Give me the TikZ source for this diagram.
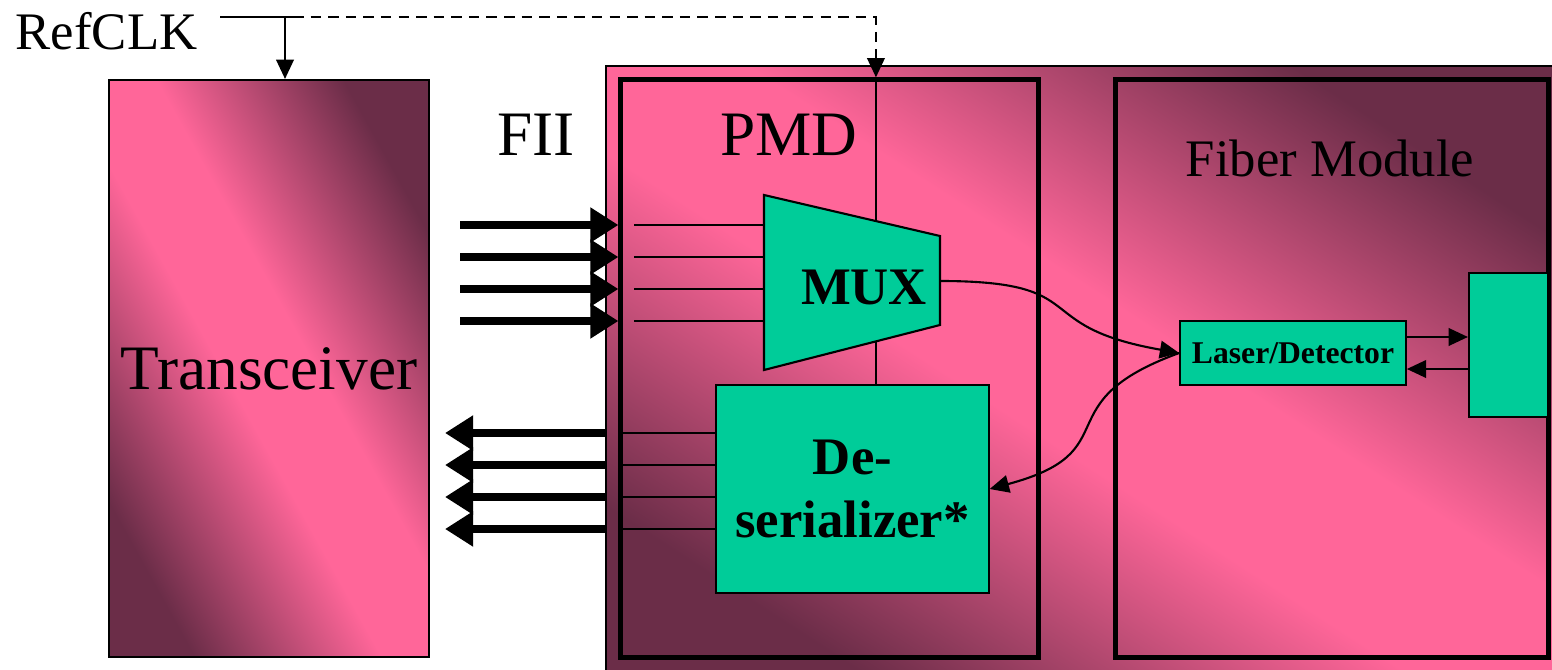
\documentclass[tikz,border=0pt]{standalone}
\usepackage{fontspec}
\setmainfont{Liberation Serif}
\usepackage{tikz}
\usetikzlibrary{arrows.meta,positioning,calc}
\definecolor{fiipink}{HTML}{FF6699}
\definecolor{fiidark}{HTML}{6B2D48}
\definecolor{fiigreen}{HTML}{00CC99}
\pgfdeclareverticalshading{fiiband}{100bp}{color(0bp)=(fiidark); color(25bp)=(fiidark); color(45bp)=(fiipink); color(55bp)=(fiipink); color(75bp)=(fiidark); color(100bp)=(fiidark)}

\begin{document}
\begin{tikzpicture}[
  x=0.01cm, y=-0.01cm,
  shadebox/.style={draw, line width=0.5pt, shade, shading=fiiband},
  modbox/.style={draw, line width=1.4pt, minimum height=5.77cm},
  greenbox/.style={draw, fill=fiigreen, line width=0.6pt, font=\bfseries\fontsize{15}{18}\selectfont},
  bigtext/.style={font=\fontsize{18}{21}\selectfont},
  midtext/.style={font=\fontsize{15}{18}\selectfont},
  wire/.style={line width=0.6pt},
  wide/.style={line width=2pt, -{Triangle[length=8pt, width=9.5pt]}},
  arr/.style={line width=0.6pt, -{Triangle[length=5.5pt, width=5pt]}},
  >=Stealth
]
\useasboundingbox (0,0) rectangle (1552,670);

% Transceiver
\node[shadebox, shading angle=-61, bigtext, minimum width=3.2cm, minimum height=5.77cm] (trx) at (269,368.5) {Transceiver};

% PHY block with PMD and fiber module
\node[shadebox, shading angle=-33, anchor=north west, minimum width=9.55cm, minimum height=6.15cm] (phy) at (605,65) {};
\node[modbox, minimum width=4.17cm] (pmd) at (829.5,368.5) {};
\node[modbox, minimum width=4.32cm] (fiber) at (1332,368.5) {};

% Labels
\node[midtext, anchor=west, inner sep=0pt] (refclk) at (15,31) {RefCLK};
\node[bigtext] (fii) at (536,135) {FII};
\node[bigtext] (pmdlabel) at (789,135) {PMD};
\node[midtext] (fiberlabel) at (1330,158) {Fiber Module};

% MUX
\coordinate (muxtl) at (764,195);
\coordinate (muxtr) at (940,236);
\coordinate (muxbr) at (940,325);
\coordinate (muxbl) at (764,370);
\coordinate (muxtop) at ($(muxtl)!0.636!(muxtr)$);
\coordinate (muxbot) at ($(muxbl)!0.636!(muxbr)$);
\coordinate (muxout) at (940,281);
\draw[wire, fill=fiigreen] (muxtl) -- (muxtr) -- (muxbr) -- (muxbl) -- cycle;
\node[font=\bfseries\fontsize{15}{18}\selectfont] (mux) at (864,287) {MUX};

% Deserializer, laser and connector
\node[greenbox, minimum width=2.72cm, minimum height=2.08cm, align=center] (deser) at (852.5,489) {De-\\serializer*};
\node[greenbox, minimum width=2.24cm, minimum height=0.64cm, font=\bfseries\fontsize{9}{11}\selectfont] (laser) at (1293,353) {Laser/Detector};
\node[greenbox, minimum width=0.79cm, minimum height=1.44cm] (conn) at (1508.5,345) {};

% Reference clock
\coordinate (clk) at (220,17);
\coordinate (clktap) at (293,17);
\coordinate (clkdown) at ([xshift=0.16cm]trx.north);
\draw[wire] (clk) -- (clktap);
\draw[arr] (clkdown |- clk) -- (clkdown);
\draw[arr, dash pattern=on 3pt off 2pt] (clktap) -| (pmd.north -| muxtop);
\draw[wire] (pmd.north -| muxtop) -- (muxtop);
\draw[wire] (muxbot) -- (deser.north -| muxbot);

% Transmit lanes
\foreach \y [count=\i] in {225,257,289,321} {
  \coordinate (in\i) at (460,\y);
  \draw[wide] (in\i) -- (in\i -| pmd.west);
  \draw[wire] ([xshift=0.16cm]in\i -| pmd.west) -- (in\i -| muxtl);
}

% Receive lanes
\foreach \y [count=\i] in {433,465,497,529} {
  \coordinate (out\i) at (445,\y);
  \draw[wide] (out\i -| phy.west) -- (out\i);
  \draw[wire] (out\i -| pmd.west) -- (out\i -| deser.west);
}

% Optical path
\draw[arr] (muxout) to[out=0, in=170, looseness=1.6] (laser.west);
\draw[arr] (laser.west) to[out=200, in=15, looseness=1.6] (deser.east);
\draw[arr] ([yshift=0.16cm]laser.east) -- ([yshift=0.16cm]laser.east -| conn.west);
\draw[arr] ([yshift=-0.16cm]laser.east -| conn.west) -- ([yshift=-0.16cm]laser.east);

\end{tikzpicture}
\end{document}
